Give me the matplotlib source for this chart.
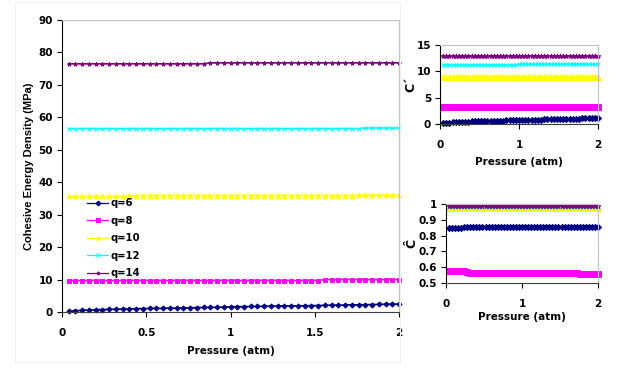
import matplotlib
matplotlib.use("Agg")
import matplotlib.pyplot as plt
from matplotlib.patches import Rectangle

plt.rcParams['font.family'] = ['DejaVu Sans']
plt.rcParams['font.weight'] = 'bold'

# ---------------- data ----------------
pressure = [0.04, 0.08, 0.12, 0.16, 0.20, 0.24, 0.28, 0.32, 0.36, 0.40,
            0.44, 0.48, 0.52, 0.56, 0.60, 0.64, 0.68, 0.72, 0.76, 0.80,
            0.84, 0.88, 0.92, 0.96, 1.00, 1.04, 1.08, 1.12, 1.16, 1.20,
            1.24, 1.28, 1.32, 1.36, 1.40, 1.44, 1.48, 1.52, 1.56, 1.60,
            1.64, 1.68, 1.72, 1.76, 1.80, 1.84, 1.88, 1.92, 1.96, 2.00]

labels = ["q=6", "q=8", "q=10", "q=12", "q=14"]

# Cohesive energy density (MPa)
ced_q6 = [0.2, 0.4, 0.5, 0.6, 0.7, 0.75, 0.8, 0.85, 0.9, 0.95,
          1.0, 1.05, 1.1, 1.1, 1.15, 1.2, 1.2, 1.25, 1.3, 1.35,
          1.4, 1.4, 1.45, 1.5, 1.6, 1.65, 1.65, 1.7, 1.7, 1.75,
          1.8, 1.85, 1.9, 1.9, 1.9, 1.95, 1.95, 2.0, 2.05, 2.1,
          2.1, 2.15, 2.2, 2.2, 2.25, 2.3, 2.35, 2.4, 2.4, 2.45]
ced_q8 = [9.7, 9.7, 9.7, 9.7, 9.7, 9.7, 9.7, 9.7, 9.7, 9.7,
          9.7, 9.7, 9.7, 9.7, 9.7, 9.7, 9.7, 9.7, 9.7, 9.7,
          9.7, 9.7, 9.7, 9.7, 9.7, 9.7, 9.7, 9.7, 9.7, 9.7,
          9.7, 9.7, 9.7, 9.7, 9.7, 9.7, 9.7, 9.7, 10.0, 10.0,
          10.0, 10.0, 10.0, 10.0, 10.0, 10.0, 10.0, 10.0, 10.0, 10.0]
ced_q10 = [35.6, 35.6, 35.6, 35.6, 35.6, 35.6, 35.6, 35.6, 35.6, 35.6,
           35.9, 35.9, 35.9, 35.9, 35.9, 35.9, 35.9, 35.9, 35.9, 35.9,
           35.9, 35.9, 35.9, 35.9, 35.9, 35.9, 35.9, 35.9, 35.9, 35.9,
           35.9, 35.9, 35.9, 35.9, 35.9, 35.9, 35.9, 35.9, 35.9, 35.9,
           35.9, 35.9, 35.9, 36.0, 36.0, 36.0, 36.0, 36.0, 36.0, 36.0]
ced_q12 = [56.5, 56.5, 56.5, 56.5, 56.5, 56.5, 56.5, 56.5, 56.5, 56.5,
           56.5, 56.5, 56.5, 56.5, 56.5, 56.5, 56.5, 56.5, 56.5, 56.5,
           56.5, 56.5, 56.5, 56.5, 56.5, 56.5, 56.5, 56.5, 56.5, 56.5,
           56.5, 56.5, 56.5, 56.5, 56.5, 56.5, 56.5, 56.5, 56.5, 56.5,
           56.5, 56.5, 56.5, 56.5, 56.7, 56.7, 56.7, 56.7, 56.7, 56.7]
ced_q14 = [76.5, 76.5, 76.5, 76.5, 76.5, 76.5, 76.5, 76.5, 76.5, 76.5,
           76.5, 76.5, 76.5, 76.5, 76.5, 76.5, 76.5, 76.5, 76.5, 76.5,
           76.5, 76.8, 76.8, 76.8, 76.8, 76.8, 76.8, 76.8, 76.8, 76.8,
           76.8, 76.8, 76.8, 76.8, 76.8, 76.8, 76.8, 76.8, 76.8, 76.8,
           76.8, 76.8, 76.8, 76.8, 76.8, 76.8, 76.8, 76.8, 76.8, 76.8]

# C' (top-right panel)
cp_q6 = [0.1, 0.2, 0.25, 0.3, 0.35, 0.38, 0.4, 0.42, 0.45, 0.48,
         0.5, 0.52, 0.55, 0.56, 0.58, 0.6, 0.61, 0.62, 0.64, 0.66,
         0.68, 0.69, 0.7, 0.72, 0.75, 0.76, 0.77, 0.78, 0.79, 0.8,
         0.82, 0.84, 0.86, 0.87, 0.88, 0.9, 0.91, 0.93, 0.95, 0.97,
         0.98, 1.0, 1.02, 1.03, 1.05, 1.06, 1.08, 1.1, 1.11, 1.13]
cp_q8 = [3.2, 3.2, 3.2, 3.2, 3.2, 3.2, 3.2, 3.2, 3.2, 3.2,
         3.2, 3.2, 3.2, 3.2, 3.2, 3.2, 3.2, 3.2, 3.2, 3.2,
         3.2, 3.2, 3.2, 3.2, 3.2, 3.2, 3.2, 3.2, 3.2, 3.2,
         3.2, 3.2, 3.2, 3.2, 3.2, 3.2, 3.2, 3.25, 3.25, 3.25,
         3.25, 3.25, 3.25, 3.25, 3.25, 3.25, 3.25, 3.25, 3.25, 3.25]
cp_q10 = [8.9, 8.9, 8.9, 8.9, 8.9, 8.9, 8.9, 8.9, 8.9, 8.9,
          8.9, 8.9, 8.9, 8.9, 8.9, 8.95, 8.95, 8.95, 8.95, 8.95,
          8.95, 8.95, 8.95, 8.95, 8.95, 8.95, 8.95, 8.95, 8.95, 8.95,
          8.95, 8.95, 8.95, 8.95, 8.95, 8.95, 8.95, 8.95, 8.95, 8.95,
          8.95, 8.95, 8.95, 8.95, 8.95, 8.95, 8.95, 8.95, 8.95, 8.95]
cp_q12 = [11.2, 11.2, 11.2, 11.2, 11.2, 11.2, 11.2, 11.2, 11.2, 11.2,
          11.2, 11.2, 11.2, 11.2, 11.2, 11.2, 11.2, 11.2, 11.2, 11.2,
          11.2, 11.2, 11.2, 11.2, 11.35, 11.35, 11.35, 11.35, 11.35, 11.35,
          11.35, 11.35, 11.35, 11.35, 11.35, 11.35, 11.35, 11.35, 11.35, 11.35,
          11.35, 11.35, 11.35, 11.35, 11.35, 11.35, 11.35, 11.35, 11.35, 11.35]
cp_q14 = [12.9, 12.9, 12.9, 12.9, 12.9, 12.9, 12.9, 12.9, 12.9, 12.9,
          12.9, 12.9, 12.9, 12.9, 12.9, 12.9, 12.9, 12.9, 12.9, 12.9,
          12.9, 12.9, 12.9, 12.9, 12.9, 12.9, 12.9, 12.9, 12.9, 12.9,
          12.9, 12.9, 12.9, 12.9, 12.9, 12.9, 12.9, 12.9, 12.9, 12.9,
          12.9, 12.9, 12.9, 12.9, 12.9, 12.9, 12.9, 12.9, 12.9, 12.9]

# C-hat (bottom-right panel)
ch_q6 = [0.849, 0.849, 0.849, 0.849, 0.849, 0.855, 0.855, 0.855, 0.855, 0.855,
         0.855, 0.855, 0.855, 0.855, 0.855, 0.855, 0.855, 0.855, 0.855, 0.855,
         0.855, 0.855, 0.855, 0.855, 0.855, 0.855, 0.855, 0.855, 0.855, 0.855,
         0.855, 0.855, 0.855, 0.855, 0.855, 0.855, 0.855, 0.855, 0.855, 0.855,
         0.855, 0.855, 0.855, 0.855, 0.855, 0.855, 0.855, 0.855, 0.855, 0.855]
ch_q8 = [0.574, 0.574, 0.574, 0.574, 0.574, 0.574, 0.572, 0.566, 0.566, 0.566,
         0.566, 0.566, 0.566, 0.566, 0.566, 0.566, 0.566, 0.566, 0.566, 0.566,
         0.566, 0.566, 0.566, 0.566, 0.566, 0.563, 0.562, 0.562, 0.562, 0.562,
         0.562, 0.562, 0.562, 0.562, 0.562, 0.562, 0.562, 0.562, 0.562, 0.562,
         0.562, 0.562, 0.562, 0.560, 0.560, 0.560, 0.558, 0.558, 0.558, 0.558]
ch_q10 = [0.973, 0.973, 0.973, 0.973, 0.973, 0.973, 0.973, 0.973, 0.973, 0.973,
          0.973, 0.973, 0.973, 0.973, 0.973, 0.973, 0.973, 0.973, 0.973, 0.973,
          0.973, 0.973, 0.973, 0.973, 0.973, 0.973, 0.973, 0.973, 0.973, 0.973,
          0.973, 0.973, 0.973, 0.973, 0.973, 0.973, 0.973, 0.973, 0.973, 0.973,
          0.973, 0.973, 0.973, 0.973, 0.973, 0.973, 0.973, 0.973, 0.973, 0.973]
ch_q12 = [0.983, 0.983, 0.983, 0.983, 0.983, 0.983, 0.983, 0.983, 0.983, 0.983,
          0.983, 0.983, 0.983, 0.983, 0.983, 0.983, 0.983, 0.983, 0.983, 0.983,
          0.983, 0.983, 0.983, 0.983, 0.983, 0.983, 0.983, 0.983, 0.983, 0.983,
          0.983, 0.983, 0.983, 0.983, 0.983, 0.983, 0.983, 0.983, 0.983, 0.983,
          0.983, 0.983, 0.983, 0.983, 0.983, 0.983, 0.983, 0.983, 0.983, 0.983]
ch_q14 = [0.990, 0.990, 0.990, 0.990, 0.990, 0.990, 0.990, 0.990, 0.990, 0.990,
          0.990, 0.990, 0.990, 0.990, 0.990, 0.990, 0.990, 0.990, 0.990, 0.990,
          0.990, 0.990, 0.990, 0.990, 0.990, 0.990, 0.990, 0.990, 0.990, 0.990,
          0.990, 0.990, 0.990, 0.990, 0.990, 0.990, 0.990, 0.990, 0.990, 0.990,
          0.990, 0.990, 0.990, 0.990, 0.990, 0.990, 0.990, 0.990, 0.990, 0.990]

# ---------------- styles ----------------
colors = ["#000080", "#FF00FF", "#FFFF00", "#00FFFF", "#800080"]
markers = ["D", "s", "^", "x", "*"]
msizes = [2.6, 3.2, 3.4, 3.0, 3.0]

TICK_FS = 7.5
XLAB_FS = 7.5
YLAB_FAMILY = ['Liberation Sans', 'DejaVu Sans']

fig = plt.figure(figsize=(6.28, 3.70), dpi=100)
fig.patch.set_facecolor("white")

# faint outer chart area border
fig.add_artist(Rectangle((15 / 628, 1 - 362 / 370), (400 - 15) / 628, (362 - 2) / 370,
                         transform=fig.transFigure, fill=False, edgecolor="#f0f0f0", lw=0.8))


def style_axes(ax):
    for side in ["top", "right"]:
        ax.spines[side].set_color("#c0c0c0")
        ax.spines[side].set_linewidth(0.8)
    ax.spines["left"].set_color("black")
    ax.spines["bottom"].set_color("#404040")
    ax.tick_params(direction="out", length=3.5, width=0.8, labelsize=TICK_FS, pad=3,
                   top=False, right=False)
    for lbl in ax.get_xticklabels() + ax.get_yticklabels():
        lbl.set_fontweight("bold")


def draw(ax, series, with_label, scale=1.0):
    for y, c, m, ms, lab in zip(series, colors, markers, msizes, labels):
        ax.plot(pressure, y, color=c, marker=m, markersize=ms * scale, lw=1.2,
                markeredgewidth=0.7, label=lab if with_label else None, clip_on=False)


# main axes
ax = fig.add_axes([62 / 628, 1 - 312 / 370, (399 - 62) / 628, (312 - 20) / 370])
draw(ax, [ced_q6, ced_q8, ced_q10, ced_q12, ced_q14], True)
ax.set_xlim(0, 2)
ax.set_ylim(0, 90)
ax.set_xticks([0, 0.5, 1, 1.5, 2])
ax.set_xticklabels(["0", "0.5", "1", "1.5", "2"])
ax.set_yticks(range(0, 91, 10))
style_axes(ax)
ax.tick_params(axis="x", pad=8)
ax.set_xlabel("Pressure (atm)", fontsize=XLAB_FS, fontweight="bold", labelpad=6)
ax.set_ylabel("Cohesive Energy Density (MPa)", fontsize=8, fontweight="bold",
              family=YLAB_FAMILY, labelpad=3)
leg = ax.legend(loc="upper left", bbox_to_anchor=(0.075, 0.39), frameon=False,
                fontsize=7.2, handlelength=2.1, handletextpad=0.2, labelspacing=0.75,
                borderaxespad=0, borderpad=0)
for t in leg.get_texts():
    t.set_fontweight("bold")
for h in leg.get_lines():
    h.set_linewidth(0.9)
    h.set_markersize(2.5)

# top-right axes: C'
ax2 = fig.add_axes([440 / 628, 1 - 124 / 370, (598 - 440) / 628, (124 - 45) / 370])
draw(ax2, [cp_q6, cp_q8, cp_q10, cp_q12, cp_q14], False, scale=1.2)
ax2.set_xlim(0, 2)
ax2.set_ylim(0, 15)
ax2.set_xticks([0, 1, 2])
ax2.set_yticks([0, 5, 10, 15])
style_axes(ax2)
ax2.tick_params(axis="x", pad=8)
ax2.set_xlabel("Pressure (atm)", fontsize=XLAB_FS, fontweight="bold", labelpad=5)
ax2.set_ylabel("C\u00b4", fontsize=9, fontweight="bold", labelpad=-1)

# bottom-right axes: C-hat
ax3 = fig.add_axes([446 / 628, 1 - 283 / 370, (598 - 446) / 628, (283 - 204) / 370])
draw(ax3, [ch_q6, ch_q8, ch_q10, ch_q12, ch_q14], False, scale=1.2)
ax3.set_xlim(0, 2)
ax3.set_ylim(0.5, 1.0)
ax3.set_xticks([0, 1, 2])
ax3.set_yticks([0.5, 0.6, 0.7, 0.8, 0.9, 1.0])
ax3.set_yticklabels(["0.5", "0.6", "0.7", "0.8", "0.9", "1"])
style_axes(ax3)
ax3.tick_params(axis="x", pad=8)
ax3.set_xlabel("Pressure (atm)", fontsize=XLAB_FS, fontweight="bold", labelpad=2)
ax3.set_ylabel("\u0108", fontsize=9, fontweight="bold", labelpad=0)

fig.savefig("out.png", dpi=100, facecolor="white")
